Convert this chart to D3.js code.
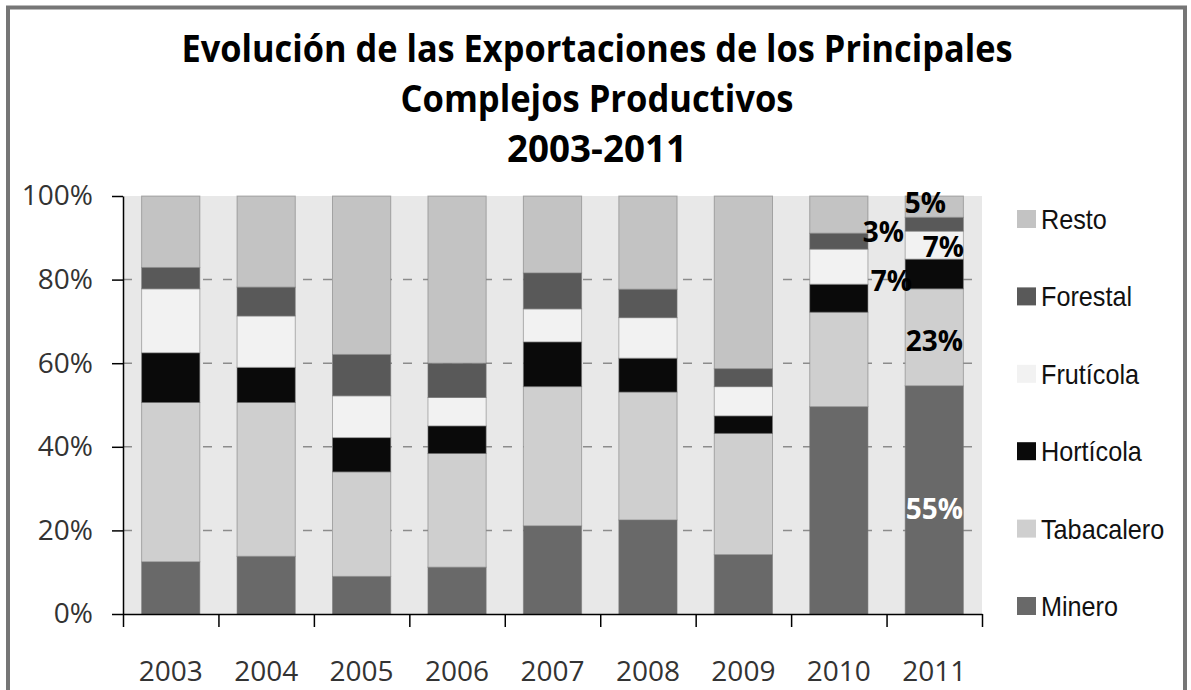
<!DOCTYPE html>
<html>
<head>
<meta charset="utf-8">
<script src="https://cdn.jsdelivr.net/npm/d3@7"></script>
<style>
  body { margin: 0; background: #fff; }
  svg { display: block; }
</style>
</head>
<body>
<div id="chart"></div>
<script>
// valores (% del total exportado)
const years = ["2003", "2004", "2005", "2006", "2007", "2008", "2009", "2010", "2011"];
const minero = [12.5, 13.8, 9.0, 11.2, 21.1, 22.5, 14.2, 49.6, 54.6];
const tabacalero = [38.1, 36.8, 25.0, 27.2, 33.3, 30.6, 29.0, 22.6, 23.2];
const horticola = [11.9, 8.4, 8.2, 6.6, 10.7, 8.1, 4.2, 6.7, 7.1];
const fruticola = [15.3, 12.3, 10.0, 6.8, 7.9, 9.7, 7.0, 8.4, 6.7];
const forestal = [5.1, 6.9, 9.9, 8.2, 8.6, 6.8, 4.3, 3.8, 3.3];
const resto = [17.1, 21.8, 37.9, 40.0, 18.4, 22.3, 41.3, 8.9, 5.1];

const seriesNames = ["Minero", "Tabacalero", "Hortícola", "Frutícola", "Forestal", "Resto"];
const seriesValues = [minero, tabacalero, horticola, fruticola, forestal, resto];
const yTicks = [0, 0.2, 0.4, 0.6, 0.8, 1];
const titleLines = [
  "Evolución de las Exportaciones de los Principales",
  "Complejos Productivos",
  "2003-2011"
];
const labelYear = "2011";

// estilos
const colors = {
  "Minero": "#696969",
  "Tabacalero": "#cfcfcf",
  "Hortícola": "#0a0a0a",
  "Frutícola": "#f2f2f2",
  "Forestal": "#595959",
  "Resto": "#c3c3c3"
};
// desplazamiento manual de las etiquetas (como en la planilla original)
const labelNudge = {
  "Minero": [0, 9, "#fff"],
  "Tabacalero": [0, 4, "#000"],
  "Hortícola": [-43, 7, "#000"],
  "Frutícola": [9, 2, "#000"],
  "Forestal": [-51, 8, "#000"],
  "Resto": [-9, -4, "#000"]
};

const width = 1191, height = 690;
const plot = { left: 123, right: 982, top: 196, bottom: 614 };

const table = years.map((y, i) => {
  const row = { year: y };
  seriesNames.forEach((s, k) => (row[s] = seriesValues[k][i]));
  return row;
});

const svg = d3.select("#chart").append("svg")
  .attr("width", width)
  .attr("height", height);

// marco exterior
svg.append("rect")
  .attr("x", 8).attr("y", 7.5)
  .attr("width", 1177).attr("height", 720)
  .attr("fill", "#fff")
  .attr("stroke", "#767676")
  .attr("stroke-width", 4);

// titulo
const titleWidths = [831, 393, 180];
const titleBase = [62, 112, 162];
titleLines.forEach((t, i) => {
  svg.append("text")
    .attr("x", 597)
    .attr("y", titleBase[i])
    .attr("text-anchor", "middle")
    .attr("font-family", "'Open Sans', sans-serif")
    .attr("font-weight", "bold")
    .attr("font-size", 37)
    .attr("textLength", titleWidths[i])
    .attr("lengthAdjust", "spacingAndGlyphs")
    .attr("fill", "#000")
    .text(t);
});

const x = d3.scaleBand()
  .domain(years)
  .range([plot.left, plot.right])
  .paddingInner(0.39)
  .paddingOuter(0.195);

const y = d3.scaleLinear()
  .domain([0, 1])
  .range([plot.bottom, plot.top]);

// fondo del area de trazado
svg.append("rect")
  .attr("x", plot.left).attr("y", plot.top)
  .attr("width", plot.right - plot.left)
  .attr("height", plot.bottom - plot.top)
  .attr("fill", "#e8e8e8");

// lineas de division
svg.append("g")
  .selectAll("line")
  .data(yTicks.filter(d => d > 0 && d < 1))
  .join("line")
  .attr("x1", plot.left).attr("x2", plot.right)
  .attr("y1", d => y(d)).attr("y2", d => y(d))
  .attr("stroke", "#8c8c8c")
  .attr("stroke-width", 1.5)
  .attr("stroke-dasharray", "9,11");

const stack = d3.stack().keys(seriesNames).offset(d3.stackOffsetExpand);
const layers = stack(table);

svg.append("g")
  .selectAll("g")
  .data(layers)
  .join("g")
  .attr("fill", d => colors[d.key])
  .selectAll("rect")
  .data(d => d)
  .join("rect")
  .attr("x", d => x(d.data.year))
  .attr("width", x.bandwidth())
  .attr("y", d => y(d[1]))
  .attr("height", d => y(d[0]) - y(d[1]))
  .attr("stroke", "rgba(120,120,120,0.55)")
  .attr("stroke-width", 1);

// etiquetas de datos del ultimo año
const li = years.indexOf(labelYear);
svg.append("g")
  .selectAll("text")
  .data(layers)
  .join("text")
  .attr("x", d => x(labelYear) + x.bandwidth() / 2 + labelNudge[d.key][0])
  .attr("y", d => (y(d[li][0]) + y(d[li][1])) / 2 + labelNudge[d.key][1])
  .attr("dy", "0.36em")
  .attr("text-anchor", "middle")
  .attr("font-family", "'Open Sans', sans-serif")
  .attr("font-weight", "bold")
  .attr("font-size", 28)
  .attr("fill", d => labelNudge[d.key][2])
  .text(d => Math.round(d[li].data[d.key]) + "%");

// eje Y
const yAxis = svg.append("g")
  .attr("transform", `translate(${plot.left},0)`)
  .call(d3.axisLeft(y)
    .tickValues(yTicks)
    .tickFormat(d3.format(".0%"))
    .tickSize(11)
    .tickSizeOuter(0)
    .tickPadding(19));
yAxis.select(".domain").attr("stroke", "#000").attr("stroke-width", 1.5);
yAxis.selectAll(".tick line").attr("stroke", "#000").attr("stroke-width", 1.5);
yAxis.selectAll("text")
  .attr("font-family", "'Open Sans', sans-serif")
  .attr("font-size", 28)
  .attr("fill", "#333");

// eje X: marcas entre categorias
const xEdges = d3.scaleLinear().domain([0, years.length]).range([plot.left, plot.right]);
const xAxis = svg.append("g")
  .attr("transform", `translate(0,${plot.bottom})`)
  .call(d3.axisBottom(xEdges)
    .tickValues(d3.range(years.length + 1))
    .tickFormat("")
    .tickSize(13)
    .tickSizeOuter(0));
xAxis.select(".domain").attr("stroke", "#000").attr("stroke-width", 1.5);
xAxis.selectAll(".tick line").attr("stroke", "#000").attr("stroke-width", 1.5);

svg.append("g")
  .selectAll("text")
  .data(years)
  .join("text")
  .attr("x", d => x(d) + x.bandwidth() / 2)
  .attr("y", 681)
  .attr("text-anchor", "middle")
  .attr("font-family", "'Open Sans', sans-serif")
  .attr("font-size", 28)
  .attr("fill", "#333")
  .text(d => d);

// leyenda (de arriba hacia abajo: Resto ... Minero)
const legendItems = seriesNames.slice().reverse();
const legend = svg.append("g")
  .selectAll("g")
  .data(legendItems)
  .join("g")
  .attr("transform", (d, i) => `translate(1017,${219 + i * 77.4})`);

legend.append("rect")
  .attr("x", 0).attr("y", -9)
  .attr("width", 19).attr("height", 18)
  .attr("fill", d => colors[d]);

legend.append("text")
  .attr("x", 24)
  .attr("dy", "0.36em")
  .attr("font-family", "'Liberation Sans', Arial, sans-serif")
  .attr("font-size", 28)
  .attr("fill", "#111")
  .text(d => d)
  .each(function () {
    const w = this.getComputedTextLength();
    d3.select(this)
      .attr("textLength", w * 0.9)
      .attr("lengthAdjust", "spacingAndGlyphs");
  });
</script>
</body>
</html>
